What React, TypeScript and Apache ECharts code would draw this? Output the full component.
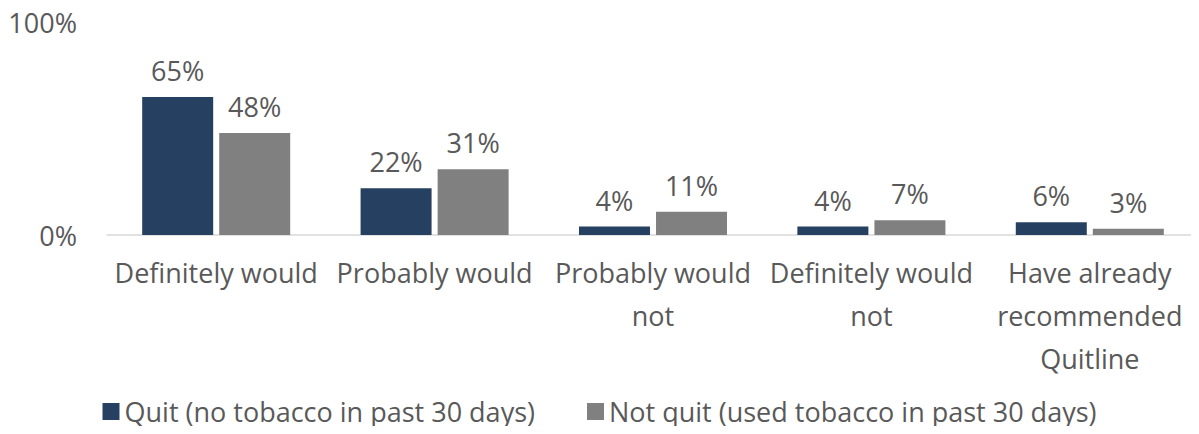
import React, { useEffect, useRef } from "react";
import * as echarts from "echarts";

const categories = [
  "Definitely would",
  "Probably would",
  "Probably would\nnot",
  "Definitely would\nnot",
  "Have already\nrecommended\nQuitline",
];
const quitValues = [65, 22, 4, 4, 6];
const notQuitValues = [48, 31, 11, 7, 3];
const seriesNames = ["Quit (no tobacco in past 30 days)", "Not quit (used tobacco in past 30 days)"];

const FONT = "Open Sans";
const TEXT = "#595959";

export default function App() {
  const ref = useRef<HTMLDivElement>(null);
  useEffect(() => {
    if (!ref.current) return;
    const chart = echarts.init(ref.current, undefined, { renderer: "svg" });
    const label = {
      show: true,
      position: "top" as const,
      distance: 13,
      formatter: "{c}%",
      color: TEXT,
      fontFamily: FONT,
      fontSize: 27,
    };
    chart.setOption({
      animation: false,
      textStyle: { fontFamily: FONT },
      grid: { left: 107, right: 0, top: 22.7, bottom: 199, containLabel: false },
      legend: {
        top: 398,
        left: "center",
        padding: 0,
        itemWidth: 17,
        itemHeight: 17,
        itemGap: 52,
        icon: "rect",
        textStyle: { color: TEXT, fontFamily: FONT, fontSize: 27 },
        data: seriesNames,
      },
      xAxis: {
        type: "category",
        data: categories,
        axisTick: { show: false },
        axisLine: { lineStyle: { color: "#d9d9d9", width: 1.5 } },
        axisLabel: {
          color: TEXT,
          fontFamily: FONT,
          fontSize: 27,
          lineHeight: 43,
          interval: 0,
          margin: 16,
        },
      },
      yAxis: {
        type: "value",
        min: 0,
        max: 100,
        interval: 100,
        splitLine: { show: false },
        axisLabel: {
          formatter: "{value}%",
          color: TEXT,
          fontFamily: FONT,
          fontSize: 27,
          margin: 30,
        },
      },
      series: [
        {
          name: seriesNames[0],
          type: "bar",
          data: quitValues,
          barWidth: 71,
          barGap: "8.5%",
          itemStyle: { color: "#264061" },
          label,
        },
        {
          name: seriesNames[1],
          type: "bar",
          data: notQuitValues,
          barWidth: 71,
          itemStyle: { color: "#808080" },
          label,
        },
      ],
    });
    return () => chart.dispose();
  }, []);
  return <div ref={ref} style={{ width: 1199, height: 434, margin: -8 }} />;
}
